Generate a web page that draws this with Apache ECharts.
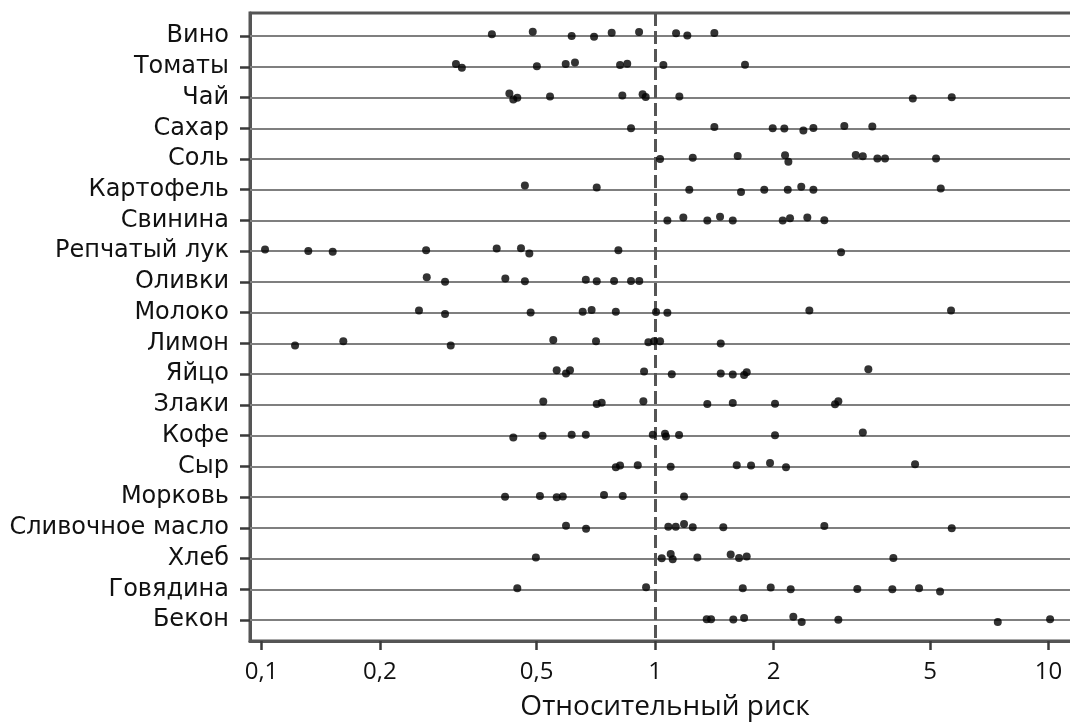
<!DOCTYPE html>
<html>
<head>
<meta charset="utf-8">
<script src="https://cdn.jsdelivr.net/npm/echarts@6/dist/echarts.min.js"></script>
<style>
  html, body { margin: 0; padding: 0; background: #fff; }
  #chart { width: 1070px; height: 725px; }
</style>
</head>
<body>
<div id="chart"></div>
<script>
// Foods, top to bottom
const categories = [
  'Вино', 'Томаты', 'Чай', 'Сахар', 'Соль', 'Картофель', 'Свинина',
  'Репчатый лук', 'Оливки', 'Молоко', 'Лимон', 'Яйцо', 'Злаки', 'Кофе',
  'Сыр', 'Морковь', 'Сливочное масло', 'Хлеб', 'Говядина', 'Бекон'
];

// Relative risk reported by each study, one list per food
const relativeRisk = [
  [0.385, 0.489, 0.614, 0.700, 0.776, 0.911, 1.131, 1.208, 1.415],
  [0.312, 0.323, 0.501, 0.593, 0.626, 0.815, 0.850, 1.05, 1.693],
  [0.4265, 0.4364, 0.4467, 0.541, 0.826, 0.930, 0.947, 1.153, 4.519, 5.675],
  [0.869, 1.415, 1.991, 2.131, 2.382, 2.526, 3.027, 3.566],
  [1.030, 1.247, 1.622, 2.140, 2.182, 3.236, 3.373, 3.673, 3.841, 5.177],
  [0.467, 0.711, 1.222, 1.654, 1.895, 2.174, 2.353, 2.526, 5.322],
  [1.075, 1.180, 1.358, 1.463, 1.576, 2.111, 2.203, 2.438, 2.693],
  [0.1021, 0.1315, 0.1517, 0.262, 0.396, 0.4565, 0.4793, 0.807, 2.97],
  [0.263, 0.2927, 0.4165, 0.467, 0.667, 0.711, 0.787, 0.869, 0.912],
  [0.2513, 0.2927, 0.483, 0.655, 0.690, 0.795, 1.006, 1.075, 2.467, 5.652],
  [0.1217, 0.1614, 0.3026, 0.5514, 0.708, 0.962, 0.994, 1.03, 1.469],
  [0.5625, 0.594, 0.608, 0.938, 1.103, 1.469, 1.576, 1.684, 1.710, 3.484],
  [0.520, 0.711, 0.732, 0.934, 1.358, 1.576, 2.018, 2.867, 2.923],
  [0.4364, 0.518, 0.614, 0.667, 0.987, 1.060, 1.066, 1.151, 2.018, 3.373],
  [0.795, 0.815, 0.904, 1.096, 1.613, 1.754, 1.960, 2.152, 4.579],
  [0.4158, 0.510, 0.5625, 0.583, 0.742, 0.828, 1.185],
  [0.594, 0.668, 1.081, 1.129, 1.185, 1.247, 1.491, 2.693, 5.675],
  [0.498, 1.040, 1.096, 1.109, 1.281, 1.557, 1.635, 1.710, 4.033],
  [0.4467, 0.949, 1.671, 1.968, 2.212, 3.266, 4.009, 4.687, 5.301],
  [1.353, 1.388, 1.581, 1.684, 2.246, 2.359, 2.923, 7.43, 10.09]
];

// Small vertical jitter of each dot, in rows (negative = upward)
const rowJitter = [
  [-0.06, -0.14, 0, 0.02, -0.11, -0.13, -0.09, -0.02, -0.10],
  [-0.09, 0.03, -0.02, -0.09, -0.14, -0.06, -0.10, -0.06, -0.07],
  [-0.13, 0.06, 0.01, -0.03, -0.07, -0.11, -0.02, -0.03, 0.03, -0.01],
  [0, -0.04, 0, 0.01, 0.07, -0.01, -0.07, -0.06],
  [0, -0.04, -0.10, -0.12, 0.09, -0.13, -0.09, -0.02, -0.02, -0.02],
  [-0.14, -0.07, 0, 0.07, 0, 0, -0.10, 0, -0.04],
  [0, -0.10, 0, -0.12, 0, 0, -0.07, -0.10, -0.01],
  [-0.06, -0.01, 0.02, -0.03, -0.09, -0.10, 0.07, -0.03, 0.03],
  [-0.15, -0.01, -0.11, -0.02, -0.07, -0.02, -0.03, -0.03, -0.03],
  [-0.07, 0.04, -0.01, -0.03, -0.09, -0.03, -0.02, 0, -0.07, -0.07],
  [0.07, -0.07, 0.07, -0.11, -0.07, -0.04, -0.07, -0.07, 0],
  [-0.13, -0.02, -0.13, -0.09, 0, -0.02, 0.01, 0.03, -0.06, -0.16],
  [-0.11, -0.03, -0.07, -0.12, -0.03, -0.06, -0.04, -0.02, -0.12],
  [0.06, 0, -0.03, -0.03, -0.03, -0.06, 0.03, -0.02, -0.01, -0.10],
  [0.03, -0.03, -0.04, 0.01, -0.04, -0.03, -0.11, 0.03, -0.07],
  [-0.01, -0.04, 0, -0.02, -0.07, -0.04, -0.02],
  [-0.07, 0.03, -0.04, -0.04, -0.13, -0.02, -0.02, -0.06, 0.01],
  [-0.04, -0.01, -0.15, 0.02, -0.04, -0.13, -0.02, -0.07, -0.02],
  [-0.04, -0.07, -0.04, -0.06, 0, -0.01, 0, -0.04, 0.07],
  [-0.03, -0.03, -0.02, -0.07, -0.11, 0.06, -0.01, 0.06, -0.03]
];

// Log-axis tick values and the no-effect reference value
const tickValues = [0.1, 0.2, 0.5, 1, 2, 5, 10];
const referenceRisk = 1;
const xRange = [0.0935, 12.02];

const rowIndex = categories.map((_, i) => i);

const points = [];
relativeRisk.forEach((list, i) => {
  list.forEach((v, j) => points.push([v, i + rowJitter[i][j]]));
});

const chart = echarts.init(document.getElementById('chart'), null, { renderer: 'canvas' });

const frameLine = { color: '#555555', width: 3 };
const tickLine = { color: '#3a3a3a', width: 2.5 };

chart.setOption({
  animation: false,
  backgroundColor: '#ffffff',
  grid: {
    left: 250, top: 13, width: 830, height: 628,
    outerBoundsMode: 'none',
    containLabel: false,
    show: true, borderColor: '#555555', borderWidth: 3,
    backgroundColor: 'transparent'
  },
  xAxis: {
    type: 'log',
    logBase: 10,
    min: xRange[0],
    max: xRange[1],
    axisLine: { show: true, onZero: false, lineStyle: frameLine },
    splitLine: { show: false },
    minorTick: { show: false },
    axisTick: {
      show: true, length: 9, inside: false,
      customValues: tickValues,
      lineStyle: tickLine
    },
    axisLabel: {
      customValues: tickValues,
      margin: 19,
      color: '#111111',
      fontFamily: 'Open Sans',
      fontSize: 24,
      formatter: v => String(+v.toPrecision(6)).replace('.', ',')
    },
    name: 'Относительный риск',
    nameLocation: 'middle',
    nameGap: 52,
    nameTextStyle: { color: '#111111', fontFamily: 'Open Sans', fontSize: 28 }
  },
  yAxis: {
    type: 'value',
    inverse: true,
    min: -0.75,
    max: 19.68,
    axisLine: { show: true, onZero: false, lineStyle: frameLine },
    splitLine: { show: false },
    axisTick: {
      show: true, length: 10, inside: false,
      customValues: rowIndex,
      lineStyle: tickLine
    },
    axisLabel: {
      customValues: rowIndex,
      margin: 21,
      color: '#111111',
      fontFamily: 'DejaVu Sans',
      fontSize: 24,
      padding: [0, 0, 8, 0],
      formatter: v => categories[Math.round(v)]
    }
  },
  series: [
    {
      // one horizontal guide line per food
      type: 'scatter',
      data: [],
      z: 1,
      silent: true,
      markLine: {
        silent: true,
        symbol: ['none', 'none'],
        label: { show: false },
        emphasis: { disabled: true },
        lineStyle: { color: '#7f7f7f', width: 2, type: 'solid' },
        data: rowIndex.map(i => ({ yAxis: i }))
      }
    },
    {
      // dashed line at relative risk = 1
      type: 'scatter',
      data: [],
      z: 2,
      silent: true,
      markLine: {
        silent: true,
        symbol: ['none', 'none'],
        label: { show: false },
        emphasis: { disabled: true },
        lineStyle: { color: '#555555', width: 3, type: [13, 5] },
        data: [{ xAxis: referenceRisk }]
      }
    },
    {
      type: 'scatter',
      z: 5,
      symbol: 'circle',
      symbolSize: 8,
      itemStyle: { color: '#000000' },
      data: points
    }
  ]
});
</script>
</body>
</html>
